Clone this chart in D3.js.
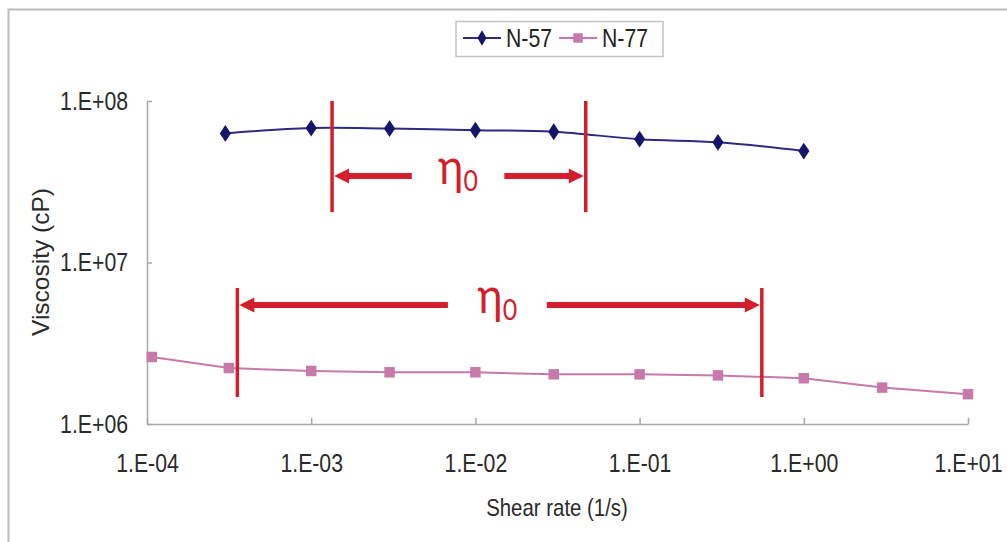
<!DOCTYPE html>
<html>
<head>
<meta charset="utf-8">
<style>
    body { margin: 0; background: #fff; }
    svg { display: block; font-family: 'Liberation Sans', Arial, sans-serif; }
    .axis path, .axis line { stroke: #a8a8a8; stroke-width: 1.5; }
    .axis text { fill: #2a2a2a; font-size: 25px; }
</style>
</head>
<body>
<svg width="1007" height="542"></svg>

<script src="https://d3js.org/d3.v7.min.js"></script>
<script>
    // shear rate (1/s) and viscosity (cP) for the two samples
    const n57Rate = [3e-4, 1e-3, 3e-3, 1e-2, 3e-2, 1e-1, 3e-1, 1];
    const n57Visc = [6.3e7, 6.8e7, 6.75e7, 6.6e7, 6.45e7, 5.8e7, 5.55e7, 4.9e7];

    const n77Rate = [1.07e-4, 3.15e-4, 1e-3, 3e-3, 1e-2, 3e-2, 1e-1, 3e-1, 1, 3, 10];
    const n77Visc = [2.6e6, 2.22e6, 2.13e6, 2.09e6, 2.09e6, 2.03e6, 2.03e6, 2.0e6, 1.92e6, 1.68e6, 1.53e6];

    const xTicks = [1e-4, 1e-3, 1e-2, 1e-1, 1, 10];
    const xTickLabels = ["1.E-04", "1.E-03", "1.E-02", "1.E-01", "1.E+00", "1.E+01"];
    const yTicks = [1e6, 1e7, 1e8];
    const yTickLabels = ["1.E+06", "1.E+07", "1.E+08"];

    // zero-shear plateau annotations (shear rate span, viscosity span)
    const etaFrom = [1.34e-3, 3.55e-4];
    const etaTo = [4.7e-2, 0.555];
    const etaGapFrom = [4.1e-3, 6.8e-3];
    const etaGapTo = [1.5e-2, 2.72e-2];
    const etaTop = [1.0e8, 6.95e6];
    const etaBottom = [2.05e7, 1.47e6];
    const etaLevel = [3.43e7, 5.45e6];

    const squeeze = 0.85;
    const red = "#d21f2b";
    const navy = "#15156b";
    const pink = "#c77aaa";

    const svg = d3.select("svg");

    // outer frame
    svg.append("path")
        .attr("d", "M8.5,542 L8.5,9.5 L1007,9.5")
        .style("fill", "none")
        .style("stroke", "#bdbdbd")
        .style("stroke-width", 2);

    const x = d3.scaleLog().domain([1e-4, 10]).range([147, 968]);
    const y = d3.scaleLog().domain([1e6, 1e8]).range([424, 101]);

    const xAxis = svg.append("g")
        .attr("class", "axis")
        .attr("transform", "translate(0,424)")
        .call(d3.axisBottom(x)
            .tickValues(xTicks)
            .tickFormat((d, i) => xTickLabels[i])
            .tickSizeInner(-6)
            .tickSizeOuter(0)
            .tickPadding(30));
    xAxis.selectAll("text").attr("transform", `scale(${squeeze},1)`);

    const yAxis = svg.append("g")
        .attr("class", "axis")
        .attr("transform", "translate(147,0)")
        .call(d3.axisLeft(y)
            .tickValues(yTicks)
            .tickFormat((d, i) => yTickLabels[i])
            .tickSizeInner(-5)
            .tickSizeOuter(0)
            .tickPadding(19));
    yAxis.selectAll("text")
        .attr("x", -19 / squeeze)
        .attr("transform", `scale(${squeeze},1)`);

    // axis titles
    svg.append("text")
        .attr("transform", `translate(557,516) scale(${squeeze},1)`)
        .attr("text-anchor", "middle")
        .style("font-size", "24px")
        .style("fill", "#2a2a2a")
        .text("Shear rate (1/s)");

    svg.append("text")
        .attr("transform", "translate(49,262) rotate(-90)")
        .attr("text-anchor", "middle")
        .style("font-size", "24.5px")
        .style("fill", "#2a2a2a")
        .text("Viscosity (cP)");

    // series
    const n57 = n57Rate.map((r, i) => ({ r: r, v: n57Visc[i] }));
    const n77 = n77Rate.map((r, i) => ({ r: r, v: n77Visc[i] }));

    const smooth = d3.line().x(d => x(d.r)).y(d => y(d.v)).curve(d3.curveCatmullRom);
    const straight = d3.line().x(d => x(d.r)).y(d => y(d.v));

    svg.append("path")
        .attr("d", straight(n77))
        .style("fill", "none")
        .style("stroke", pink)
        .style("stroke-width", 2);

    svg.selectAll(".sq")
        .data(n77)
        .join("path")
        .attr("class", "sq")
        .attr("transform", d => `translate(${x(d.r)},${y(d.v)})`)
        .attr("d", d3.symbol(d3.symbolSquare, 110))
        .style("fill", pink);

    svg.append("path")
        .attr("d", smooth(n57))
        .style("fill", "none")
        .style("stroke", "#2b2b85")
        .style("stroke-width", 2);

    svg.selectAll(".dm")
        .data(n57)
        .join("path")
        .attr("class", "dm")
        .attr("transform", d => `translate(${x(d.r)},${y(d.v)}) scale(1.1,0.95)`)
        .attr("d", d3.symbol(d3.symbolDiamond, 90))
        .style("fill", navy);

    // eta_0 annotations
    etaFrom.forEach((f, i) => {
        const g = svg.append("g");
        [f, etaTo[i]].forEach(r => {
            g.append("line")
                .attr("x1", x(r)).attr("x2", x(r))
                .attr("y1", y(etaTop[i])).attr("y2", y(etaBottom[i]))
                .style("stroke", red)
                .style("stroke-width", 3.5);
        });
        const ay = y(etaLevel[i]);
        const head = 15;
        // left arrow
        g.append("line")
            .attr("x1", x(f) + head).attr("x2", x(etaGapFrom[i]))
            .attr("y1", ay).attr("y2", ay)
            .style("stroke", red).style("stroke-width", 6);
        g.append("path")
            .attr("d", `M${x(f) + 2},${ay} L${x(f) + head + 2},${ay - 7.5} L${x(f) + head + 2},${ay + 7.5} Z`)
            .style("fill", red);
        // right arrow
        g.append("line")
            .attr("x1", x(etaGapTo[i])).attr("x2", x(etaTo[i]) - head)
            .attr("y1", ay).attr("y2", ay)
            .style("stroke", red).style("stroke-width", 6);
        g.append("path")
            .attr("d", `M${x(etaTo[i]) - 2},${ay} L${x(etaTo[i]) - head - 2},${ay - 7.5} L${x(etaTo[i]) - head - 2},${ay + 7.5} Z`)
            .style("fill", red);

        const mid = (x(etaGapFrom[i]) + x(etaGapTo[i])) / 2;
        const t = g.append("text")
            .attr("transform", `translate(${mid},${ay + 8}) scale(0.86,1)`)
            .attr("text-anchor", "middle")
            .style("font-family", "Lato, 'Open Sans', sans-serif")
            .style("fill", red);
        t.append("tspan").style("font-size", "50px").text("η");
        t.append("tspan").attr("dy", 7).style("font-size", "29px").text("0");
    });

    // legend
    const lg = svg.append("g");
    lg.append("rect")
        .attr("x", 456).attr("y", 21.5)
        .attr("width", 207).attr("height", 35)
        .style("fill", "#fff")
        .style("stroke", "#c4c4c4")
        .style("stroke-width", 1.5);
    const legendItems = [
        { name: "N-57", color: "#2b2b85", mark: d3.symbolDiamond, fill: navy, size: 70 },
        { name: "N-77", color: pink, mark: d3.symbolSquare, fill: pink, size: 90 }
    ];
    legendItems.forEach((it, i) => {
        const x0 = 463 + i * 96;
        lg.append("line")
            .attr("x1", x0).attr("x2", x0 + 38)
            .attr("y1", 38).attr("y2", 38)
            .style("stroke", it.color).style("stroke-width", 2);
        lg.append("path")
            .attr("transform", `translate(${x0 + 19},38)`)
            .attr("d", d3.symbol(it.mark, it.size))
            .style("fill", it.fill);
        lg.append("text")
            .attr("transform", `translate(${x0 + 43},47) scale(${squeeze},1)`)
            .style("font-size", "25px")
            .style("fill", "#222")
            .text(it.name);
    });
</script>
</body>
</html>
